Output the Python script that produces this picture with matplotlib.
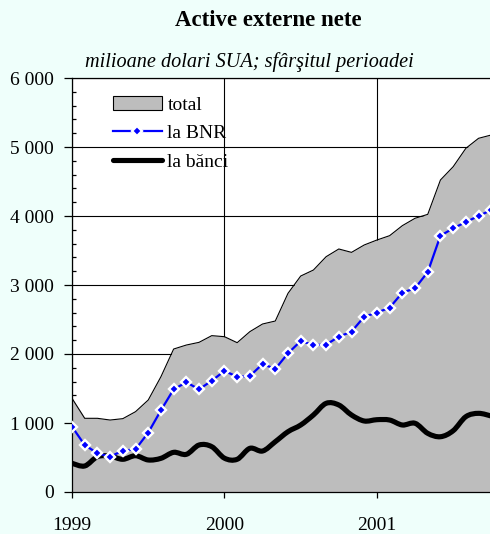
import numpy as np
import matplotlib
matplotlib.use("Agg")
import matplotlib.pyplot as plt
from matplotlib.path import Path
from matplotlib.patches import PathPatch, Patch, Rectangle
from matplotlib.lines import Line2D
from matplotlib.ticker import MultipleLocator, FuncFormatter

# monthly data, Jan 1999 .. Oct 2001 (mil. USD, end of period)
total = [1358, 1068, 1068, 1043, 1063, 1164, 1333, 1671, 2072, 2130, 2169, 2266,
         2251, 2164, 2324, 2435, 2478, 2879, 3130, 3217, 3410, 3522, 3473, 3580,
         3652, 3715, 3860, 3967, 4024, 4522, 4714, 4981, 5126, 5174]
bnr = [946, 681, 561, 512, 599, 619, 860, 1184, 1488, 1590, 1488, 1613,
       1754, 1671, 1681, 1855, 1783, 2010, 2188, 2130, 2135, 2251, 2324, 2541,
       2600, 2671, 2889, 2952, 3188, 3715, 3821, 3913, 4000, 4087]
banci = [416, 377, 512, 520, 474, 526, 464, 488, 575, 546, 681, 657,
         490, 474, 633, 594, 729, 874, 971, 1116, 1285, 1261, 1116, 1029,
         1048, 1043, 971, 996, 850, 801, 888, 1092, 1140, 1101]
year_labels = ["1999", "2000", "2001"]

plt.rcParams['font.family'] = ['Liberation Serif', 'DejaVu Serif']

bg = '#EFFFFB'
fig = plt.figure(figsize=(4.9, 5.34), dpi=100, facecolor=bg)
ax = fig.add_axes([72/490, 42/534, 418/490, 414/534])
ax.set_facecolor('white')

x = np.arange(len(total))

ax.fill_between(x, 0, total, color='#BDBDBD', lw=0, zorder=1)
ax.plot(x, total, color='black', lw=0.8, zorder=1.5)


def smooth_path(xs, ys):
    # Excel-like smoothed line: Catmull-Rom segments as cubic Bezier curves
    n = len(xs)
    verts = [(xs[0], ys[0])]
    codes = [Path.MOVETO]
    for i in range(n - 1):
        p0 = i - 1 if i > 0 else i
        p3 = i + 2 if i + 2 < n else i + 1
        c1 = (xs[i] + (xs[i + 1] - xs[p0]) / 6, ys[i] + (ys[i + 1] - ys[p0]) / 6)
        c2 = (xs[i + 1] - (xs[p3] - xs[i]) / 6, ys[i + 1] - (ys[p3] - ys[i]) / 6)
        verts += [c1, c2, (xs[i + 1], ys[i + 1])]
        codes += [Path.CURVE4] * 3
    return Path(verts, codes)


ax.add_patch(PathPatch(smooth_path(x, banci), fill=False, lw=3.7, ec='black',
                       capstyle='round', joinstyle='round', zorder=2))

ax.plot(x, bnr, color='#0000FF', lw=1.6, marker='D', ms=4.8, mfc='#0000FF',
        mec='white', mew=1.7, zorder=3)

ax.set_xlim(0, 32.9)
ax.set_ylim(0, 6000)
ax.set_xticks([0, 12, 24])
ax.set_xticklabels(year_labels)
ax.yaxis.set_major_locator(MultipleLocator(1000))
ax.yaxis.set_minor_locator(MultipleLocator(200))
ax.yaxis.set_major_formatter(FuncFormatter(lambda v, p: f"{int(v):,}".replace(",", " ")))

ax.grid(True, which='major', color='black', lw=0.8)
ax.set_axisbelow(True)
for s in ['left', 'bottom', 'top']:
    ax.spines[s].set_color('black')
    ax.spines[s].set_linewidth(0.9)
ax.spines['right'].set_visible(False)

ax.tick_params(axis='y', which='major', direction='out', length=5.8, width=0.9, pad=7, labelsize=14)
ax.tick_params(axis='y', which='minor', direction='in', length=2.9, width=0.9)
ax.tick_params(axis='x', which='major', direction='out', length=4.3, width=0.9, pad=14, labelsize=14)

# white box behind the legend
ax.add_patch(Rectangle((18/418, (492-175)/414), 160/418, 88/414, transform=ax.transAxes,
                       facecolor='white', edgecolor='none', zorder=0.5))

handles = [Patch(facecolor='#BDBDBD', edgecolor='black', lw=0.8),
           Line2D([], [], color='#0000FF', lw=1.6, marker='D', ms=4.8, mfc='#0000FF',
                  mec='white', mew=1.7),
           Line2D([], [], color='black', lw=3.7, solid_capstyle='round')]
ax.legend(handles, ['total', 'la BNR', 'la bănci'], loc='upper left',
          bbox_to_anchor=((113-72)/418, (492-96)/414), frameon=False, borderpad=0,
          borderaxespad=0, fontsize=14, handlelength=2.5, handletextpad=0.3,
          labelspacing=0.56)

fig.text(268/490, 1 - 21/534, "Active externe nete", ha='center', va='center',
         fontsize=16.5, fontweight='bold')
fig.text(249/490, 1 - 62/534, "milioane dolari SUA; sfârşitul perioadei", ha='center',
         va='center', fontsize=14.6, style='italic')

fig.savefig('out.png', dpi=100, facecolor=bg)
